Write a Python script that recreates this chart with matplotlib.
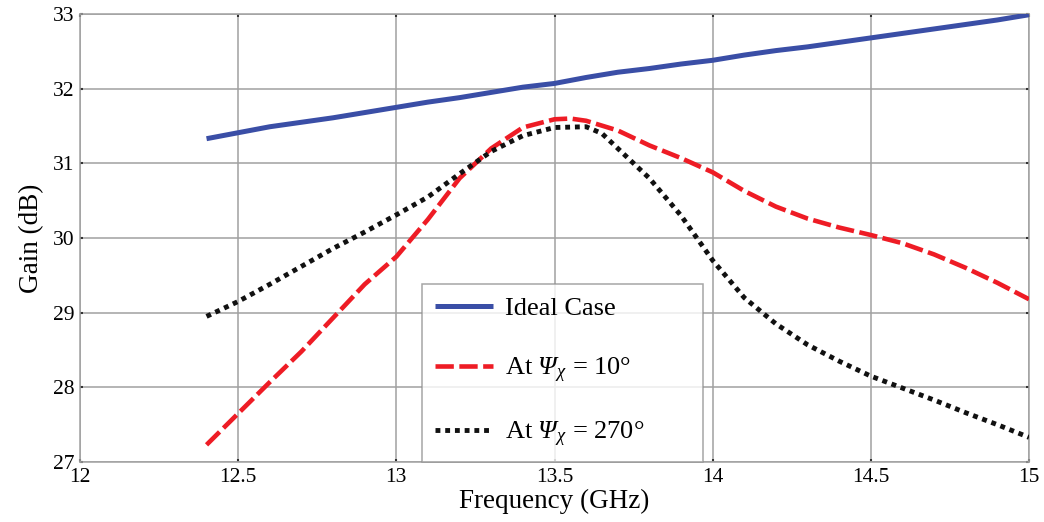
import matplotlib
matplotlib.use("Agg")
import matplotlib.pyplot as plt

plt.rcParams['font.family'] = ['Liberation Serif', 'DejaVu Serif']
plt.rcParams['mathtext.fontset'] = 'custom'
plt.rcParams['mathtext.rm'] = 'Liberation Serif'
plt.rcParams['mathtext.it'] = 'Liberation Serif:italic'
plt.rcParams['mathtext.sf'] = 'Liberation Serif:italic'

freq_ideal = [12.4, 12.5, 12.6, 12.7, 12.8, 12.9, 13.0, 13.1, 13.2, 13.3, 13.4, 13.5, 13.6,
              13.7, 13.8, 13.9, 14.0, 14.1, 14.2, 14.3, 14.4, 14.5, 14.6, 14.7, 14.8, 14.9, 15.0]
gain_ideal = [31.33, 31.41, 31.49, 31.55, 31.61, 31.68, 31.75, 31.82, 31.88, 31.95, 32.02, 32.07, 32.15,
              32.22, 32.27, 32.33, 32.38, 32.45, 32.51, 32.56, 32.62, 32.68, 32.74, 32.8, 32.86, 32.92, 32.99]

freq_10 = [12.4, 12.5, 12.6, 12.7, 12.8, 12.9, 13.0, 13.1, 13.2, 13.3, 13.4, 13.5, 13.55, 13.6,
           13.7, 13.8, 13.9, 14.0, 14.1, 14.2, 14.3, 14.4, 14.5, 14.6, 14.7, 14.8, 14.9, 15.0]
gain_10 = [27.23, 27.65, 28.07, 28.48, 28.93, 29.38, 29.75, 30.25, 30.8, 31.2, 31.48, 31.59, 31.6, 31.57,
           31.44, 31.24, 31.07, 30.88, 30.63, 30.42, 30.26, 30.14, 30.04, 29.93, 29.78, 29.6, 29.4, 29.18]

freq_270 = [12.4, 12.5, 12.6, 12.7, 12.8, 12.9, 13.0, 13.1, 13.2, 13.3, 13.4, 13.5, 13.6, 13.65,
            13.7, 13.8, 13.9, 14.0, 14.1, 14.2, 14.3, 14.4, 14.5, 14.6, 14.7, 14.8, 14.9, 15.0]
gain_270 = [28.95, 29.15, 29.38, 29.62, 29.86, 30.08, 30.31, 30.55, 30.86, 31.16, 31.37, 31.48, 31.49, 31.4,
            31.2, 30.8, 30.3, 29.7, 29.2, 28.85, 28.57, 28.35, 28.15, 27.99, 27.83, 27.66, 27.5, 27.33]

labels = ['Ideal Case', r'At $\mathsf{Ψ}_{\mathit{χ}}$ = 10°', r'At $\mathsf{Ψ}_{\mathit{χ}}$ = 270°']
x_ticks = [12, 12.5, 13, 13.5, 14, 14.5, 15]
x_ticklabels = ['12', '12.5', '13', '13.5', '14', '14.5', '15']
y_ticks = [27, 28, 29, 30, 31, 32, 33]

fig = plt.figure(figsize=(10.44, 5.22), dpi=100)
ax = fig.add_axes([80/1044, 1-462/522, 949/1044, 448/522])

ax.plot(freq_ideal, gain_ideal, color='#3a4ea6', lw=3.6, solid_capstyle='butt', label=labels[0], zorder=3)
ax.plot(freq_10, gain_10, color='#ee1c25', lw=3.3, linestyle=(0, (4, 1.2)), label=labels[1], zorder=3)
ax.plot(freq_270, gain_270, color='#111111', lw=3.5, linestyle=(0, (1, 1)), label=labels[2], zorder=3)

ax.set_xlim(12, 15)
ax.set_ylim(27, 33)
ax.set_xticks(x_ticks)
ax.set_xticklabels(x_ticklabels)
ax.set_yticks(y_ticks)
ax.grid(True, color='#a0a0a0', lw=1.1)
for s in ax.spines.values():
    s.set_color('#a0a0a0')
    s.set_linewidth(1.1)
ax.tick_params(direction='in', length=2, width=1.5, color='#333333', top=True, right=True,
               labelsize=15.5, pad=4)
ax.set_xlabel('Frequency (GHz)', fontsize=19.5, labelpad=2)
ax.set_ylabel('Gain (dB)', fontsize=19.5, labelpad=6)

leg = ax.legend(loc='lower left', bbox_to_anchor=(0.36, 0.0, 0.296, 0.4), mode='expand',
                borderaxespad=0, fontsize=19, frameon=True, fancybox=False, handlelength=2.2,
                labelspacing=1.33, borderpad=0.5, handletextpad=0.45)
leg.get_frame().set_edgecolor('#909090')
leg.get_frame().set_linewidth(1.1)

fig.savefig('out.png', dpi=100)
